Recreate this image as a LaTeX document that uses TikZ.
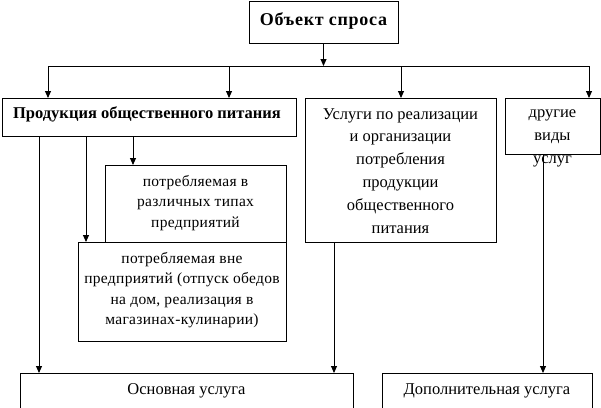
\documentclass[tikz,border=0pt]{standalone}
\usepackage{fontspec}
\setmainfont{Liberation Serif}
\usetikzlibrary{arrows.meta}
\begin{document}
\begin{tikzpicture}[x=1pt,y=-1pt,
  box/.style={draw, line width=0.9pt, inner sep=0pt, outer sep=0pt, anchor=north west},
  txt/.style={align=center, inner sep=0pt, anchor=north, font=\fontsize{16.5}{22.8}\selectfont},
  stxt/.style={align=center, inner sep=0pt, anchor=north, font=\fontsize{15.5}{20.5}\selectfont\addfontfeature{LetterSpace=2}},
  btxt/.style={align=center, inner sep=0pt, font=\fontsize{16.5}{20}\selectfont\bfseries},
  arr/.style={line width=0.9pt, -{Triangle[length=7pt,width=6pt]}},
  ln/.style={line width=0.9pt}]
\useasboundingbox (0,0) rectangle (601,407);
\clip (0,0) rectangle (601,407);

% boxes
\node[box, minimum width=149pt, minimum height=42pt] (top) at (249,1) {};
\node[box, minimum width=294pt, minimum height=38pt] (prod) at (2,98) {};
\node[box, minimum width=191pt, minimum height=144pt] (usl) at (305,98) {};
\node[box, minimum width=95pt, minimum height=56pt] (dr) at (505,98) {};
\node[box, minimum width=181pt, minimum height=77pt] (vtip) at (105,165) {};
\node[box, minimum width=208pt, minimum height=99pt] (vne) at (78,242) {};
\node[box, minimum width=333pt, minimum height=60pt] (osn) at (20,373) {};
\node[box, minimum width=210pt, minimum height=60pt] (dop) at (382,373) {};

% texts
\node[btxt, font=\fontsize{18}{20}\selectfont\bfseries\addfontfeature{LetterSpace=4}] (ttop) at ([yshift=1pt]top.center) {Объект спроса};
\node[btxt, anchor=north] (tprod) at ([xshift=-2pt,yshift=-8pt]prod.north) {Продукция общественного питания};
\node[txt] (tusl) at ([yshift=-10pt]usl.north) {Услуги по реализации\\и организации\\потребления\\продукции\\общественного\\питания};
\node[txt] (tdr) at ([yshift=-12pt]dr.north) {другие\\виды\\услуг};
\node[stxt] (tvtip) at ([yshift=-10pt]vtip.north) {потребляемая в\\различных типах\\предприятий};
\node[stxt] (tvne) at ([yshift=-10pt]vne.north) {потребляемая вне\\предприятий (отпуск обедов\\на дом, реализация в\\магазинах-кулинарии)};
\node[txt] (tosn) at ([yshift=-10pt]osn.north) {Основная услуга};
\node[txt] (tdop) at ([yshift=-10pt]dop.north) {Дополнительная услуга};

% bus
\coordinate (busL) at (48,66);
\coordinate (busR) at (589,66);
\coordinate (b2) at (229,66);
\coordinate (b3) at (401,66);
\draw[ln] (busL) -- (busR);
\draw[arr] (top.south) -- (top.south |- busL);
\draw[arr] (busL) -- (busL |- prod.north);
\draw[arr] (b2) -- (b2 |- prod.north);
\draw[arr] (b3) -- (b3 |- usl.north);
\draw[arr] (busR) -- (busR |- dr.north);

% lower connectors
\coordinate (p1) at ([xshift=37pt]prod.south west);
\coordinate (p2) at ([xshift=84pt]prod.south west);
\coordinate (p3) at ([xshift=131pt]prod.south west);
\coordinate (u1) at ([xshift=29pt]usl.south west);
\coordinate (d1) at ([xshift=38pt]dr.south west);
\draw[arr] (p1) -- (p1 |- osn.north);
\draw[arr] (p2) -- (p2 |- vne.north);
\draw[arr] (p3) -- (p3 |- vtip.north);
\draw[arr] (u1) -- (u1 |- osn.north);
\draw[arr] (d1) -- (d1 |- dop.north);
\end{tikzpicture}
\end{document}
